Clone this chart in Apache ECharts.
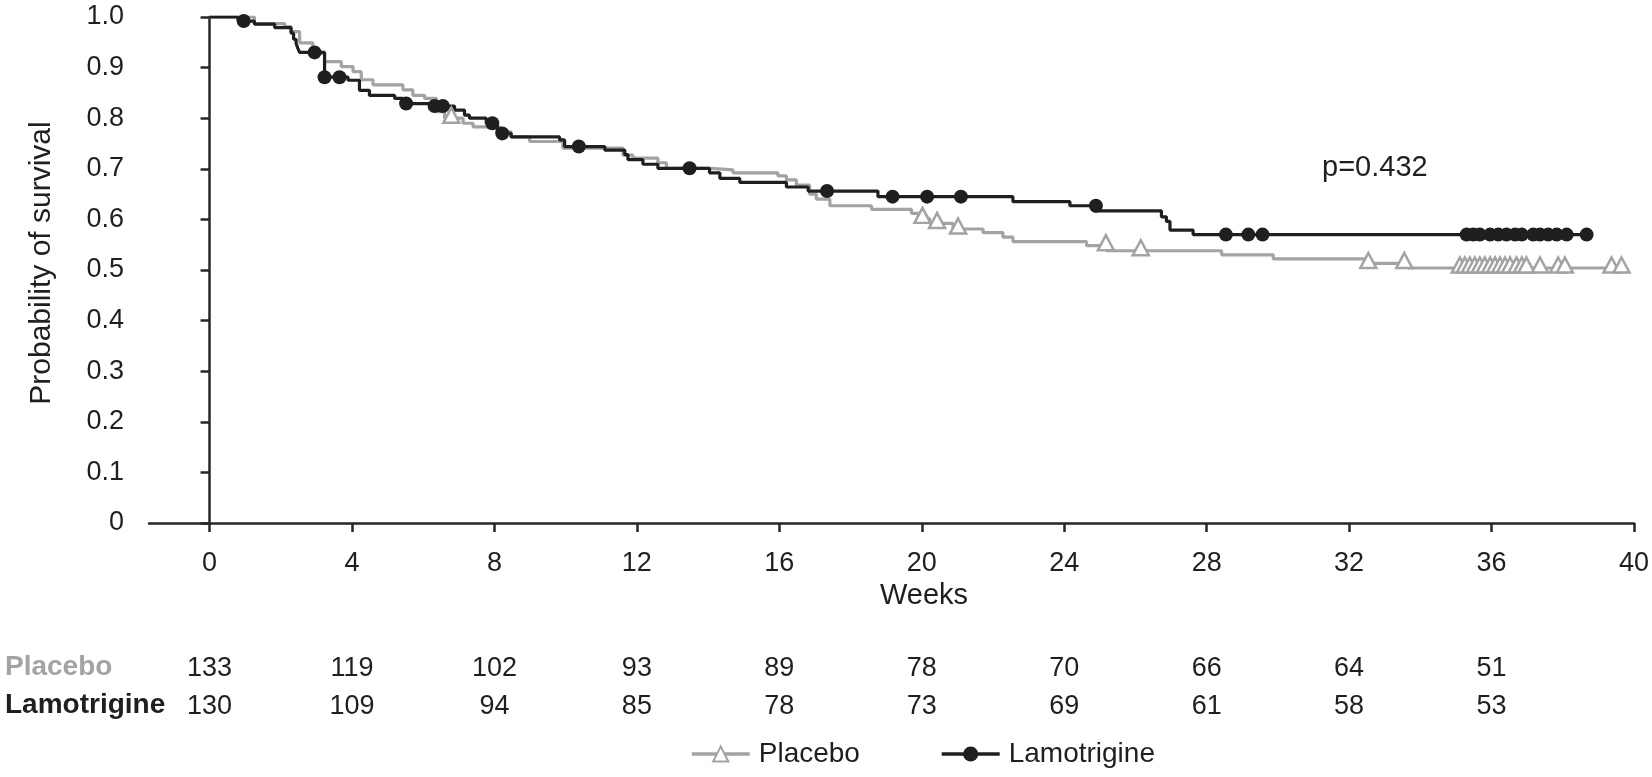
<!DOCTYPE html>
<html>
<head>
<meta charset="utf-8">
<script src="https://cdn.jsdelivr.net/npm/echarts@6/dist/echarts.min.js"></script>
<style>
html,body{margin:0;padding:0;background:#fff;}
#chart{width:1652px;height:777px;}
</style>
</head>
<body>
<div id="chart"></div>
<script>
// ---- Data ----
const weekTicks = [0, 4, 8, 12, 16, 20, 24, 28, 32, 36, 40];
const riskTimes = [0, 4, 8, 12, 16, 20, 24, 28, 32, 36];
const placeboRisk = [133, 119, 102, 93, 89, 78, 70, 66, 64, 51];
const lamoRisk = [130, 109, 94, 85, 78, 73, 69, 61, 58, 53];

// Kaplan-Meier step points (time in weeks, survival after the step)
const placeboTimes = [0, 1.26, 2.11, 2.29, 2.53, 2.9, 3.23, 3.7, 4.03, 4.26, 4.59, 5.43, 5.71, 6.04, 6.37, 6.6, 7.12, 7.4, 8.15, 8.47, 8.99, 9.92, 11.61, 11.89, 12.59, 12.83, 14.09, 14.7, 15.96, 16.2, 16.48, 16.85, 17.04, 17.42, 18.59, 19.71, 19.94, 20.22, 20.88, 21.72, 22.28, 22.56, 24.63, 25.19, 28.42, 29.87, 32.45, 33.65, 39.65];
const placeboSurv = [1.0, 0.987, 0.981, 0.971, 0.949, 0.928, 0.912, 0.902, 0.892, 0.876, 0.866, 0.856, 0.845, 0.839, 0.813, 0.800, 0.790, 0.783, 0.773, 0.763, 0.754, 0.741, 0.727, 0.721, 0.712, 0.701, 0.698, 0.692, 0.686, 0.678, 0.668, 0.650, 0.640, 0.627, 0.620, 0.612, 0.602, 0.592, 0.581, 0.574, 0.565, 0.556, 0.548, 0.538, 0.530, 0.522, 0.513, 0.504, 0.504];

const lamoTimes = [0, 0.8, 1.26, 1.83, 2.29, 2.36, 2.43, 2.48, 2.53, 3.23, 3.89, 4.21, 4.49, 5.2, 5.43, 6.18, 6.88, 7.16, 7.3, 7.77, 8.08, 8.47, 9.83, 9.97, 11.1, 11.66, 11.75, 12.17, 12.59, 14.04, 14.33, 14.89, 16.2, 16.81, 18.77, 22.56, 24.16, 24.85, 26.73, 26.87, 26.97, 27.62, 38.67];
const lamoSurv = [1.0, 0.992, 0.986, 0.979, 0.968, 0.956, 0.948, 0.938, 0.930, 0.881, 0.875, 0.855, 0.845, 0.839, 0.829, 0.824, 0.816, 0.806, 0.800, 0.790, 0.770, 0.763, 0.757, 0.744, 0.737, 0.728, 0.718, 0.709, 0.701, 0.692, 0.681, 0.673, 0.664, 0.656, 0.645, 0.635, 0.627, 0.617, 0.605, 0.596, 0.579, 0.570, 0.570];

// Censored observations
const placeboCensorTimes = [6.79, 20.02, 20.43, 21.02, 25.17, 26.15, 32.54, 33.55, 35.11, 35.25, 35.39, 35.53, 35.67, 35.81, 35.96, 36.1, 36.24, 36.38, 36.52, 36.7, 36.85, 36.98, 37.36, 37.87, 38.06, 39.37, 39.65];
const placeboCensorSurv = [0.800, 0.602, 0.592, 0.581, 0.548, 0.538, 0.513, 0.513, 0.504, 0.504, 0.504, 0.504, 0.504, 0.504, 0.504, 0.504, 0.504, 0.504, 0.504, 0.504, 0.504, 0.504, 0.504, 0.504, 0.504, 0.504, 0.504];

const lamoCensorTimes = [0.96, 2.95, 3.23, 3.65, 5.52, 6.32, 6.55, 7.94, 8.22, 10.37, 13.48, 17.34, 19.18, 20.15, 21.1, 24.89, 28.54, 29.17, 29.57, 35.3, 35.49, 35.67, 35.96, 36.19, 36.42, 36.66, 36.85, 37.17, 37.36, 37.59, 37.83, 38.11, 38.67];
const lamoCensorSurv = [0.992, 0.930, 0.881, 0.881, 0.829, 0.824, 0.824, 0.790, 0.770, 0.744, 0.701, 0.656, 0.645, 0.645, 0.645, 0.627, 0.570, 0.570, 0.570, 0.570, 0.570, 0.570, 0.570, 0.570, 0.570, 0.570, 0.570, 0.570, 0.570, 0.570, 0.570, 0.570, 0.570];

const pValueText = 'p=0.432';

// ---- Styles ----
const FONT = '"Liberation Sans", Arial, sans-serif';
const GREY = '#a3a3a3';
const BLACK = '#1f1f1f';
const AXIS = '#262626';
const zip = (a, b) => a.map((v, i) => [v, b[i]]);

const chart = echarts.init(document.getElementById('chart'), null, {renderer: 'canvas'});

const gridLeft = 149, gridRight = 18;
const xMin = -1.7, xMax = 40;

function riskAxis(gridIndex, values) {
  return {
    gridIndex: gridIndex, type: 'value', min: xMin, max: xMax,
    axisLine: {show: false}, axisTick: {show: false}, splitLine: {show: false},
    axisLabel: {
      customValues: riskTimes, margin: 0, verticalAlign: 'middle',
      fontSize: 27, color: BLACK, fontFamily: FONT,
      formatter: v => String(values[riskTimes.indexOf(v)])
    }
  };
}

const option = {
  backgroundColor: '#ffffff',
  animation: false,
  textStyle: {fontFamily: FONT},
  grid: [
    {left: gridLeft, right: gridRight, top: 17, bottom: 254},
    {left: gridLeft, right: gridRight, top: 668, height: 1},
    {left: gridLeft, right: gridRight, top: 706, height: 1}
  ],
  xAxis: [
    {
      gridIndex: 0, type: 'value', min: xMin, max: xMax,
      axisLine: {show: true, onZero: false, lineStyle: {color: AXIS, width: 2.5}},
      axisTick: {show: true, customValues: weekTicks, length: 9, lineStyle: {color: AXIS, width: 2.5}},
      axisLabel: {customValues: weekTicks, fontSize: 27, color: BLACK, margin: 27, fontFamily: FONT},
      splitLine: {show: false},
      name: 'Weeks', nameLocation: 'middle', nameGap: 50,
      nameTextStyle: {fontSize: 29, color: BLACK, fontFamily: FONT, padding: [0, 0, 0, 65]}
    },
    riskAxis(1, placeboRisk),
    riskAxis(2, lamoRisk)
  ],
  yAxis: [
    {
      gridIndex: 0, type: 'value', min: 0, max: 1, interval: 0.1,
      axisLine: {show: true, lineStyle: {color: AXIS, width: 2.5}},
      axisTick: {show: true, length: 9, lineStyle: {color: AXIS, width: 2.5}},
      axisLabel: {fontSize: 27, color: BLACK, margin: 25, fontFamily: FONT,
        formatter: v => (Math.abs(v) < 1e-9 ? '0' : v.toFixed(1))},
      splitLine: {show: false},
      name: 'Probability of survival', nameLocation: 'middle', nameGap: 92,
      nameTextStyle: {fontSize: 30, color: BLACK, fontFamily: FONT, padding: [0, 0, 0, 14]}
    },
    {gridIndex: 1, type: 'value', show: false},
    {gridIndex: 2, type: 'value', show: false}
  ],
  legend: {
    data: ['Placebo', 'Lamotrigine'],
    left: 690, top: 740,
    itemWidth: 58, itemHeight: 19, itemGap: 80,
    padding: 0,
    lineStyle: {width: 3.5},
    textStyle: {fontSize: 28, color: BLACK, fontFamily: FONT, padding: [0, 0, 0, 4]}
  },
  graphic: [
    {type: 'text', left: 5, top: 653, style: {text: 'Placebo', fill: GREY, font: 'bold 28px ' + FONT}},
    {type: 'text', left: 5, top: 691, style: {text: 'Lamotrigine', fill: BLACK, font: 'bold 28px ' + FONT}},
    {type: 'text', left: 1322, top: 153, style: {text: pValueText, fill: BLACK, font: '29px ' + FONT}}
  ],
  series: [
    {
      name: 'Placebo', type: 'line', step: 'end', xAxisIndex: 0, yAxisIndex: 0,
      data: zip(placeboTimes, placeboSurv),
      symbol: 'triangle', symbolSize: [16, 15], showSymbol: false,
      lineStyle: {color: GREY, width: 3.2},
      itemStyle: {color: '#ffffff', borderColor: GREY, borderWidth: 2.5, opacity: 1},
      z: 2
    },
    {
      name: 'Lamotrigine', type: 'line', step: 'end', xAxisIndex: 0, yAxisIndex: 0,
      data: zip(lamoTimes, lamoSurv),
      symbol: 'circle', symbolSize: 14, showSymbol: false,
      lineStyle: {color: BLACK, width: 3.2},
      itemStyle: {color: BLACK, opacity: 1},
      z: 3
    },
    {
      name: 'Placebo censored', type: 'scatter', xAxisIndex: 0, yAxisIndex: 0,
      data: zip(placeboCensorTimes, placeboCensorSurv),
      symbol: 'triangle', symbolSize: [16, 15], symbolOffset: [0, -3],
      itemStyle: {color: '#ffffff', borderColor: GREY, borderWidth: 2.5, opacity: 1},
      z: 4
    },
    {
      name: 'Lamotrigine censored', type: 'scatter', xAxisIndex: 0, yAxisIndex: 0,
      data: zip(lamoCensorTimes, lamoCensorSurv),
      symbol: 'circle', symbolSize: 14,
      itemStyle: {color: BLACK, opacity: 1},
      z: 5
    }
  ]
};

chart.setOption(option);
</script>
</body>
</html>
